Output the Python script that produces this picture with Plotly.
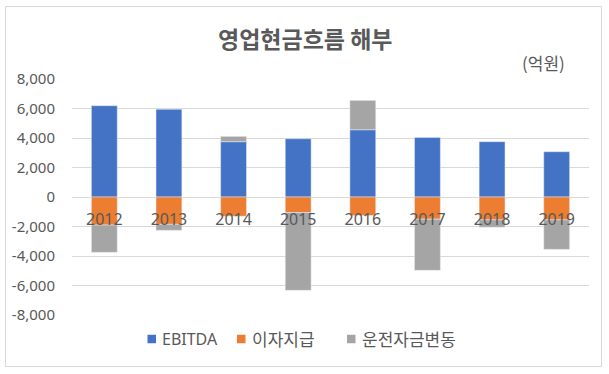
import plotly.graph_objects as go

years = ["2012", "2013", "2014", "2015", "2016", "2017", "2018", "2019"]
ebitda = [6190, 5950, 3750, 3950, 4560, 4040, 3750, 3070]
interest = [-1900, -1850, -1300, -1050, -1250, -1500, -1550, -1550]
working_cap = [-1850, -410, 360, -5280, 1990, -3470, -500, -2000]
series_names = ["EBITDA", "이자지급", "운전자금변동"]
series_colors = ["#4472C4", "#ED7D31", "#A5A5A5"]
y_ticks = [8000, 6000, 4000, 2000, 0, -2000, -4000, -6000, -8000]
y_tick_text = ["8,000", "6,000", "4,000", "2,000", "0", "-2,000", "-4,000", "-6,000", "-8,000"]

W, H = 609, 374
L, R, T, B = 72, 20, 79, 59
pw, ph = W - L - R, H - T - B

def px_x(x):
    return (x - L) / pw

def px_y(y):
    return (H - B - y) / ph

FONT = "Noto Sans, Noto Sans CJK KR, sans-serif"
KFONT = "Noto Sans CJK KR"
TXT = "#595959"

fig = go.Figure()
for vals, name, col in zip([ebitda, interest, working_cap], series_names, series_colors):
    fig.add_trace(go.Bar(x=years, y=vals, name=name, marker_color=col, hoverinfo="skip"))

# manual legend (Excel style: small squares close to text)
leg_sq_x = [147.5, 237, 347]
leg_y = 339
leg_sq = 8.5
shapes = [dict(type="rect", xref="paper", yref="paper",
               x0=px_x(5.5), x1=px_x(601.5), y0=px_y(366.5), y1=px_y(6.5),
               line=dict(color="#D9D9D9", width=1), fillcolor="rgba(0,0,0,0)", layer="below")]
annotations = [
    dict(text="<b>영업현금흐름 해부</b>", xref="paper", yref="paper", x=px_x(305), y=px_y(38),
         xanchor="center", yanchor="middle", showarrow=False,
         font=dict(size=23, color=TXT, family=KFONT)),
    dict(text="(억원)", xref="paper", yref="paper", x=px_x(543.5), y=px_y(63),
         xanchor="center", yanchor="middle", showarrow=False,
         font=dict(size=17, color=TXT, family=KFONT)),
]
for sx, name, col in zip(leg_sq_x, series_names, series_colors):
    shapes.append(dict(type="rect", xref="paper", yref="paper",
                       x0=px_x(sx), x1=px_x(sx + leg_sq),
                       y0=px_y(leg_y + leg_sq / 2), y1=px_y(leg_y - leg_sq / 2),
                       line=dict(width=0), fillcolor=col))
    annotations.append(dict(text=name, xref="paper", yref="paper", x=px_x(sx + leg_sq + 4),
                            y=px_y(leg_y), xanchor="left", yanchor="middle", showarrow=False,
                            font=dict(size=16 if name == "EBITDA" else 17, color=TXT, family=FONT)))

fig.update_layout(
    width=W, height=H,
    margin=dict(l=L, r=R, t=T, b=B, autoexpand=False),
    barmode="relative", bargap=0.6,
    plot_bgcolor="white", paper_bgcolor="white",
    font=dict(family=FONT, color=TXT, size=15),
    showlegend=False,
    xaxis=dict(anchor="free", position=0.5, showline=False, ticks="", showgrid=False,
               tickfont=dict(size=16, color=TXT), ticklabelstandoff=11, zeroline=False),
    yaxis=dict(range=[-8000, 8000], tickvals=y_ticks, ticktext=y_tick_text,
               showgrid=True, gridcolor="#D9D9D9", gridwidth=1,
               zeroline=True, zerolinecolor="#D9D9D9", zerolinewidth=1,
               tickfont=dict(size=15, color=TXT), ticklabelstandoff=16, showline=False, ticks=""),
    shapes=shapes,
    annotations=annotations,
)

fig.write_html("out.html", config={"displayModeBar": False},
               post_script="document.body.style.margin='0';")
